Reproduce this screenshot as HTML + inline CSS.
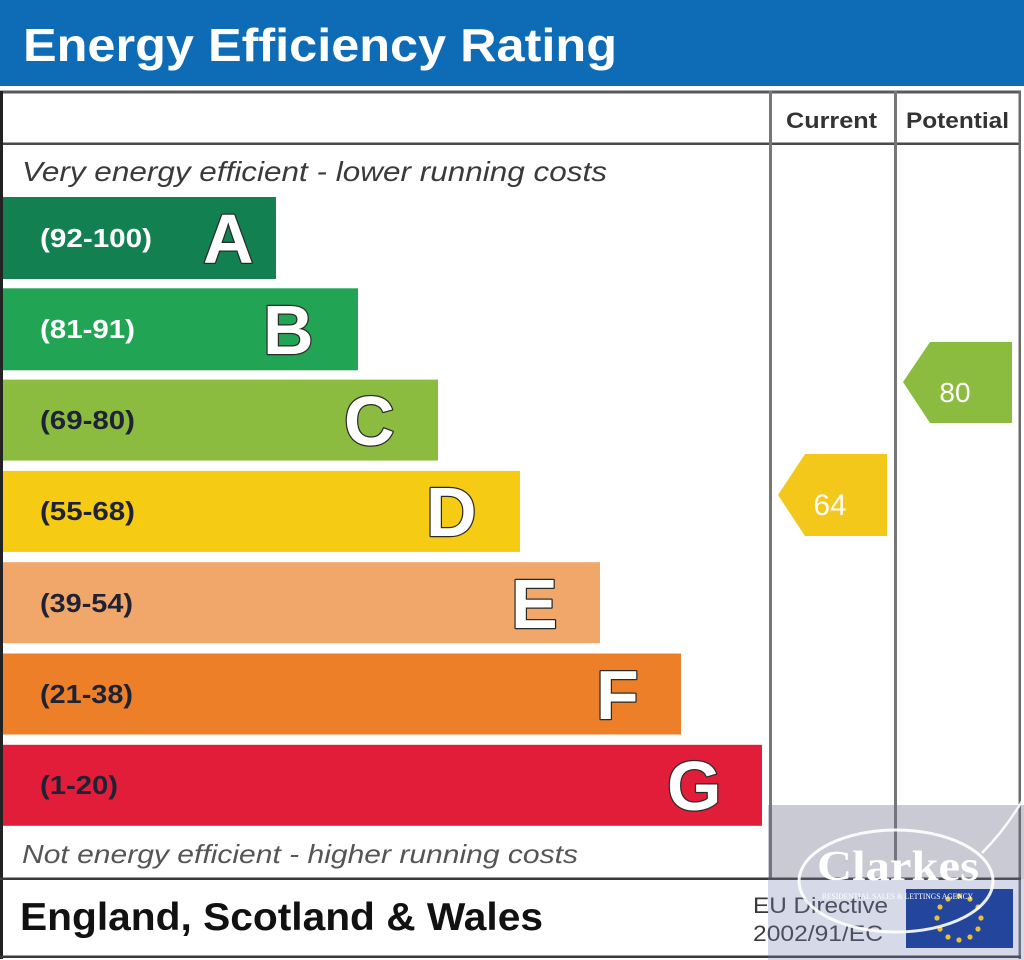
<!DOCTYPE html>
<html><head><meta charset="utf-8"><style>
html,body{margin:0;padding:0;background:#fff;}
svg{display:block;}
</style></head><body>
<svg width="1024" height="960" viewBox="0 0 1024 960" xmlns="http://www.w3.org/2000/svg" font-family="Liberation Sans, Arial, sans-serif">
<rect x="0" y="0" width="1024" height="960" fill="#fff"/>
<!-- header band -->
<rect x="0" y="0" width="1024" height="86" fill="#0e6cb6"/>
<text x="23" y="61" font-size="46" font-weight="bold" fill="#fff" textLength="594" lengthAdjust="spacingAndGlyphs">Energy Efficiency Rating</text>

<!-- frame -->
<rect x="0" y="90.5" width="1021" height="3" fill="#5a5a5a"/>
<rect x="0" y="142.5" width="1021" height="2.5" fill="#4a4a4a"/>
<rect x="0" y="91" width="3" height="868" fill="#222"/>
<rect x="1018.5" y="91" width="2.5" height="868" fill="#6a6a6a"/>
<rect x="769" y="91" width="3" height="788" fill="#777"/>
<rect x="894" y="91" width="3" height="788" fill="#777"/>
<rect x="0" y="877.5" width="1021" height="2.5" fill="#3a3a3a"/>
<rect x="0" y="955.5" width="1021" height="2.5" fill="#3a3a3a"/>

<!-- column headers -->
<text x="786" y="128" font-size="22" font-weight="bold" fill="#333" textLength="91" lengthAdjust="spacingAndGlyphs">Current</text>
<text x="906" y="128" font-size="22" font-weight="bold" fill="#333" textLength="103" lengthAdjust="spacingAndGlyphs">Potential</text>

<text x="22" y="181" font-size="28" font-style="italic" fill="#3a3a3a" textLength="585" lengthAdjust="spacingAndGlyphs">Very energy efficient - lower running costs</text>

<!-- bars -->
<g>
<rect x="3" y="197" width="273" height="82" fill="#128050"/>
<rect x="3" y="288.3" width="355" height="82" fill="#22a455"/>
<rect x="3" y="379.6" width="435" height="81" fill="#8cbc3f"/>
<rect x="3" y="470.9" width="517" height="81" fill="#f6cb14"/>
<rect x="3" y="562.2" width="597" height="81" fill="#f1a66a"/>
<rect x="3" y="653.5" width="678" height="81" fill="#ec7f27"/>
<rect x="3" y="744.8" width="759" height="81" fill="#e21d3a"/>
</g>
<g font-size="26" font-weight="bold">
<text x="40" y="247" fill="#fff" textLength="112" lengthAdjust="spacingAndGlyphs">(92-100)</text>
<text x="40" y="338" fill="#fff" textLength="95" lengthAdjust="spacingAndGlyphs">(81-91)</text>
<text x="40" y="429" fill="#1f2233" textLength="95" lengthAdjust="spacingAndGlyphs">(69-80)</text>
<text x="40" y="520" fill="#1f2233" textLength="95" lengthAdjust="spacingAndGlyphs">(55-68)</text>
<text x="40" y="612" fill="#1f2233" textLength="93" lengthAdjust="spacingAndGlyphs">(39-54)</text>
<text x="40" y="703" fill="#1f2233" textLength="93" lengthAdjust="spacingAndGlyphs">(21-38)</text>
<text x="40" y="794" fill="#1f2233" textLength="78" lengthAdjust="spacingAndGlyphs">(1-20)</text>
</g>
<g font-size="70" font-weight="bold" fill="#fff" stroke="#2a2a2a" stroke-width="2.5" paint-order="stroke" stroke-linejoin="round">
<text x="203" y="263">A</text>
<text x="263" y="354">B</text>
<text x="344" y="445">C</text>
<text x="426" y="536">D</text>
<text x="511" y="628">E</text>
<text x="596" y="719">F</text>
<text x="667" y="810">G</text>
</g>

<!-- arrows -->
<polygon points="778,495 805,454 887,454 887,536 805,536" fill="#f4c81a"/>
<text x="830" y="515" font-size="30" fill="#fff" text-anchor="middle">64</text>
<polygon points="903,382 930,342 1012,342 1012,423 930,423" fill="#8cbc3f"/>
<text x="955" y="402" font-size="28" fill="#fff" text-anchor="middle">80</text>

<text x="22" y="863" font-size="26" font-style="italic" fill="#555" textLength="556" lengthAdjust="spacingAndGlyphs">Not energy efficient - higher running costs</text>
<text x="20" y="930" font-size="39" font-weight="bold" fill="#111" textLength="523" lengthAdjust="spacingAndGlyphs">England, Scotland &amp; Wales</text>

<text x="753" y="913" font-size="22" fill="#3a3a3a" textLength="135" lengthAdjust="spacingAndGlyphs">EU Directive</text>
<text x="753" y="941" font-size="22" fill="#3a3a3a" textLength="130" lengthAdjust="spacingAndGlyphs">2002/91/EC</text>

<!-- watermark overlay -->
<rect x="768" y="805" width="256" height="74" fill="rgb(110,112,140)" fill-opacity="0.37"/>
<rect x="768" y="879" width="256" height="81" fill="rgb(120,130,180)" fill-opacity="0.3"/>

<!-- EU flag -->
<rect x="906" y="889" width="107" height="59" fill="#24459c"/>
<g fill="#e6c035">
<circle cx="959" cy="896" r="2.6"/>
<circle cx="970" cy="899" r="2.6"/>
<circle cx="978" cy="907" r="2.6"/>
<circle cx="981" cy="918" r="2.6"/>
<circle cx="978" cy="929" r="2.6"/>
<circle cx="970" cy="937" r="2.6"/>
<circle cx="959" cy="940" r="2.6"/>
<circle cx="948" cy="937" r="2.6"/>
<circle cx="940" cy="929" r="2.6"/>
<circle cx="937" cy="918" r="2.6"/>
<circle cx="940" cy="907" r="2.6"/>
<circle cx="948" cy="899" r="2.6"/>
</g>

<!-- Clarkes logo -->
<ellipse cx="896" cy="881" rx="97" ry="51" fill="none" stroke="#fff" stroke-width="3" stroke-opacity="0.9"/>
<path d="M982,853 Q1005,830 1024,798" fill="none" stroke="#fff" stroke-width="2.5" stroke-opacity="0.9"/>
<text x="817" y="880" font-family="Liberation Serif, Times New Roman, serif" font-size="42" font-weight="bold" fill="#fff" textLength="162" lengthAdjust="spacingAndGlyphs">Clarkes</text>
<text x="822" y="899" font-family="Liberation Serif, Times New Roman, serif" font-size="8" fill="#fff" textLength="151" lengthAdjust="spacingAndGlyphs">RESIDENTIAL SALES &amp; LETTINGS AGENCY</text>
</svg>
</body></html>
